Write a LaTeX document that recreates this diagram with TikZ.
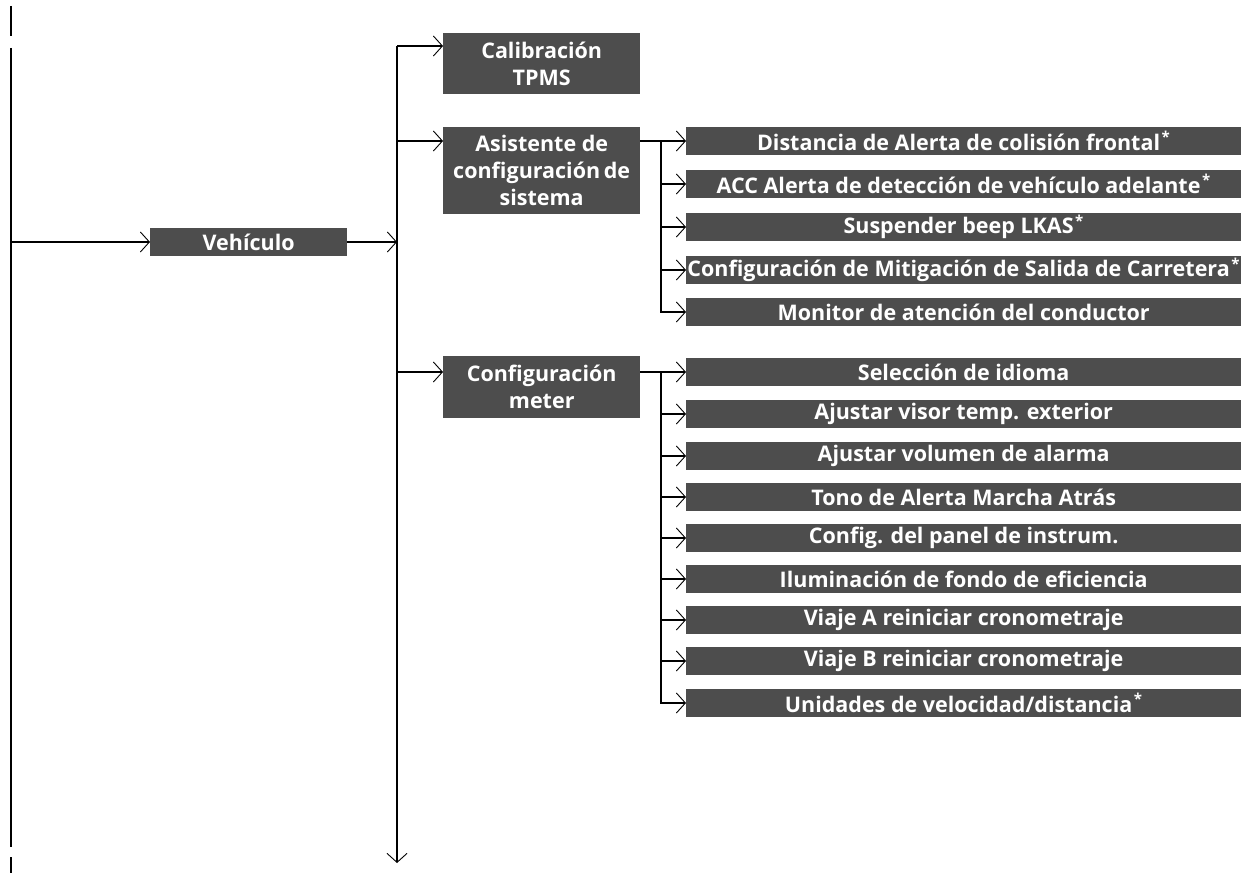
\documentclass[tikz,border=0pt]{standalone}
\usepackage{fontspec}
\setsansfont{Open Sans}
\usetikzlibrary{arrows.meta}
\definecolor{boxgray}{RGB}{77,77,77}
\newcommand{\optmark}{\kern1.5pt\textsuperscript{*}}
\tikzset{
  menubox/.style={fill=boxgray, text=white, inner sep=0pt,
    font=\sffamily\bfseries\fontsize{21.5}{27}\selectfont},
  topbox/.style={menubox, align=center, minimum width=197pt, anchor=north west},
  subbox/.style={menubox, minimum width=555pt, minimum height=28pt, anchor=west},
  conn/.style={line width=1.6pt},
  arr/.style={conn, -{Straight Barb[length=9pt,width=20pt,line width=0.9pt]}}
}
\begin{document}
\begin{tikzpicture}[x=1pt,y=1pt]
	\useasboundingbox (0,0) rectangle (1243,-874);
	% left margin line
	\draw [conn] (11,-6) -- (11,-36);
	\draw [conn] (11,-48) -- (11,-847);
	\draw [conn] (11,-857) -- (11,-873);
	\coordinate (lv) at (11,-242);
	% first level
	\node [topbox, minimum height=28pt, anchor=west] (veh) at (150,-242) {Veh\'iculo};
	\draw [arr] (lv) -- (veh.west);
	\coordinate (tk) at (397,-46);
	\coordinate (ta) at (397,-141);
	\coordinate (tm) at (397,-372);
	\coordinate (tend) at (397,-863);
	\draw [arr] (veh.east) -- (veh.east -| tk);
	\draw [arr] (tk) -- (tend);
	% second level
	\node [topbox, minimum height=61pt] (tpms) at (443,-33) {Calibraci\'on\\TPMS};
	\node [topbox, minimum height=87pt] (asist) at (443,-127) {Asistente de\\configuraci\'on\,de\\sistema};
	\node [topbox, minimum height=62pt] (meter) at (443,-356) {Configuraci\'on\\meter};
	\draw [arr] (tk) -- (tk -| tpms.west);
	\draw [arr] (ta) -- (ta -| asist.west);
	\draw [arr] (tm) -- (tm -| meter.west);
	% system assistant items
	\coordinate (ja) at (661,-141);
	\node [subbox] (dist) at (686,-141) {Distancia de Alerta de colisi\'on frontal\optmark};
	\node [subbox] (acc) at (686,-184) {ACC Alerta de detecci\'on de veh\'iculo adelante\optmark};
	\node [subbox] (lkas) at (686,-227) {Suspender beep LKAS\optmark};
	\node [subbox] (rdm) at (686,-270) {Configuraci\'on de Mitigaci\'on de Salida de Carretera\optmark};
	\node [subbox] (mon) at (686,-312) {Monitor de atenci\'on del conductor};
	\draw [arr] (asist.east |- ja) -- (dist.west);
	\draw [arr] (ja) |- (acc.west);
	\draw [arr] (ja) |- (lkas.west);
	\draw [arr] (ja) |- (rdm.west);
	\draw [arr] (ja) |- (mon.west);
	% meter items
	\coordinate (jm) at (661,-372);
	\node [subbox] (lang) at (686,-372) {Selecci\'on de idioma};
	\node [subbox] (temp) at (686,-414) {Ajustar visor temp. exterior};
	\node [subbox] (vol) at (686,-456) {Ajustar volumen de alarma};
	\node [subbox] (rev) at (686,-497) {Tono de Alerta Marcha Atr\'as};
	\node [subbox] (panel) at (686,-538) {Config. del panel de instrum.};
	\node [subbox] (eco) at (686,-579) {Iluminaci\'on de fondo de eficiencia};
	\node [subbox] (tripa) at (686,-620) {Viaje A reiniciar cronometraje};
	\node [subbox] (tripb) at (686,-661) {Viaje B reiniciar cronometraje};
	\node [subbox] (units) at (686,-703) {Unidades de velocidad/distancia\optmark};
	\draw [arr] (meter.east |- jm) -- (lang.west);
	\draw [arr] (jm) |- (temp.west);
	\draw [arr] (jm) |- (vol.west);
	\draw [arr] (jm) |- (rev.west);
	\draw [arr] (jm) |- (panel.west);
	\draw [arr] (jm) |- (eco.west);
	\draw [arr] (jm) |- (tripa.west);
	\draw [arr] (jm) |- (tripb.west);
	\draw [arr] (jm) |- (units.west);
\end{tikzpicture}
\end{document}
